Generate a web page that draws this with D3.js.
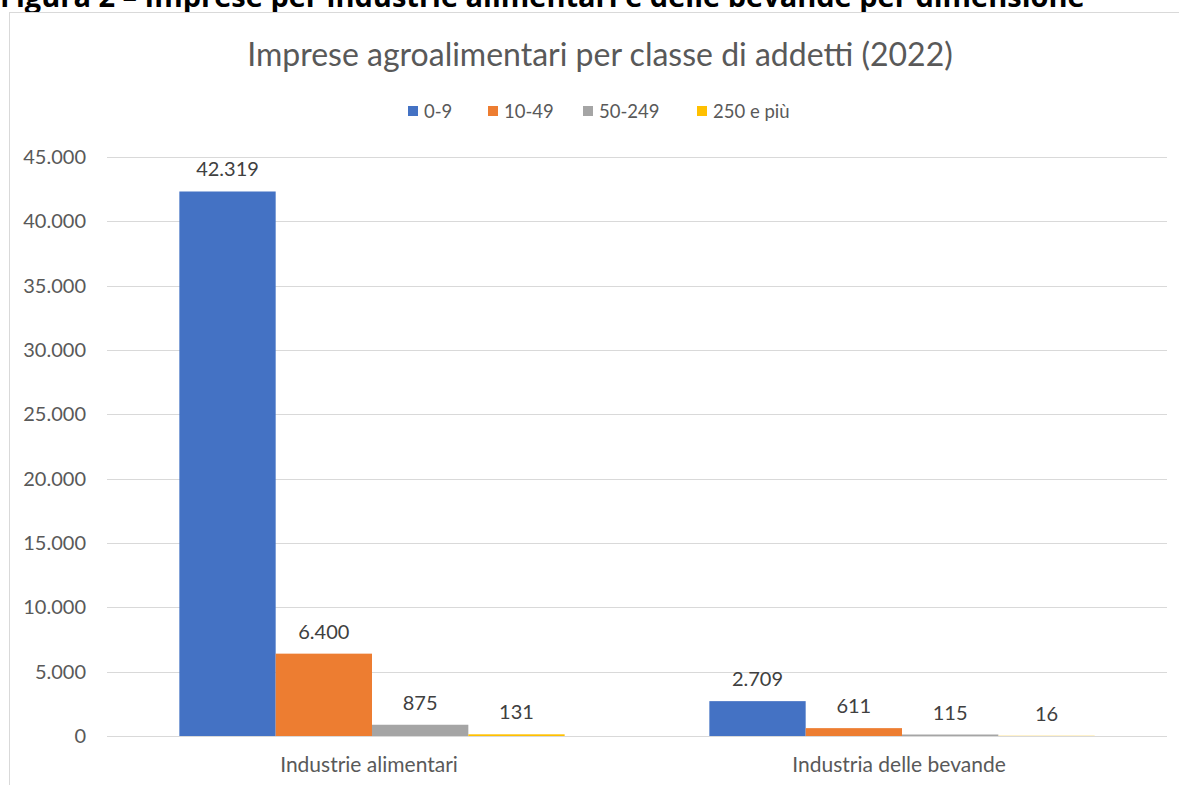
<!DOCTYPE html>
<html>
<head>
<meta charset="utf-8">
<script src="https://cdn.jsdelivr.net/npm/d3@7"></script>
<style>
  html, body { margin: 0; padding: 0; background: #fff; }
  svg { display: block; }
</style>
</head>
<body>
<svg id="chart" width="1179" height="785"></svg>
<script>
// Imprese agroalimentari per classe di addetti (2022)
const categories = ["Industrie alimentari", "Industria delle bevande"];
const classes = ["0-9", "10-49", "50-249", "250 e più"];
const values_0_9 = [42319, 2709];
const values_10_49 = [6400, 611];
const values_50_249 = [875, 115];
const values_250 = [131, 16];
const seriesColors = ["#4472c4", "#ed7d31", "#a5a5a5", "#ffc000"];
const yTicks = [0, 5000, 10000, 15000, 20000, 25000, 30000, 35000, 40000, 45000];

const series = [values_0_9, values_10_49, values_50_249, values_250];

const FONT = "Lato, 'Open Sans', sans-serif";
const fmt = d3.formatLocale({ decimal: ",", thousands: ".", grouping: [3], currency: ["€", ""] }).format(",d");

const svg = d3.select("#chart");

// Document heading above the chart frame
svg.append("text")
  .attr("x", 0).attr("y", 7)
  .attr("font-family", "'Open Sans', sans-serif")
  .attr("font-weight", "bold")
  .attr("font-size", 29)
  .attr("fill", "#000")
  .text("Figura 2 – Imprese per industrie alimentari e delle bevande per dimensione");

// Chart frame
svg.append("rect")
  .attr("x", 9.5).attr("y", 12.5)
  .attr("width", 1180).attr("height", 800)
  .attr("fill", "#fff")
  .attr("stroke", "#d9d9d9");

const margin = { left: 107, right: 1167, top: 157, bottom: 736 };

const x0 = d3.scaleBand().domain(categories).range([margin.left, margin.right]).paddingInner(0.273).paddingOuter(0.1365);
const x1 = d3.scaleBand().domain(d3.range(classes.length)).range([0, x0.bandwidth()]);
const y = d3.scaleLinear().domain([0, 45000]).range([margin.bottom, margin.top]);

// Gridlines
svg.append("g")
  .selectAll("line")
  .data(yTicks)
  .join("line")
  .attr("x1", margin.left).attr("x2", margin.right)
  .attr("y1", d => Math.round(y(d)) + 0.5).attr("y2", d => Math.round(y(d)) + 0.5)
  .attr("stroke", "#d9d9d9").attr("stroke-width", 1);

// Y axis labels
const yAxis = d3.axisLeft(y).tickValues(yTicks).tickFormat(fmt).tickSize(0).tickPadding(0);
const gy = svg.append("g").attr("transform", `translate(${margin.left - 21},0)`).call(yAxis);
gy.select(".domain").remove();
gy.selectAll("text")
  .attr("font-family", FONT).attr("font-size", 20).attr("fill", "#595959");

// X axis labels
const xAxis = d3.axisBottom(x0).tickSize(0).tickPadding(0);
const gx = svg.append("g").attr("transform", `translate(-3,${margin.bottom + 21})`).call(xAxis);
gx.select(".domain").remove();
gx.selectAll("text")
  .attr("font-family", FONT).attr("font-size", 21).attr("fill", "#595959");

// Bars
const groups = svg.append("g")
  .selectAll("g")
  .data(categories)
  .join("g")
  .attr("transform", d => `translate(${x0(d)},0)`);

groups.selectAll("rect")
  .data((d, i) => series.map((s, k) => ({ k, v: s[i] })))
  .join("rect")
  .attr("x", d => x1(d.k))
  .attr("width", x1.bandwidth())
  .attr("y", d => y(d.v))
  .attr("height", d => y(0) - y(d.v))
  .attr("fill", d => seriesColors[d.k]);

// Value labels
groups.selectAll("text.val")
  .data((d, i) => series.map((s, k) => ({ k, v: s[i] })))
  .join("text")
  .attr("class", "val")
  .attr("x", d => x1(d.k) + x1.bandwidth() / 2)
  .attr("y", d => y(d.v) - 15)
  .attr("text-anchor", "middle")
  .attr("font-family", FONT).attr("font-size", 20).attr("fill", "#404040")
  .text(d => fmt(d.v));

// Title
svg.append("text")
  .attr("x", 600).attr("y", 66)
  .attr("text-anchor", "middle")
  .attr("font-family", FONT).attr("font-size", 32).attr("fill", "#595959")
  .text("Imprese agroalimentari per classe di addetti (2022)");

// Legend
const legendX = [408, 488, 583, 697];
const legend = svg.append("g")
  .selectAll("g")
  .data(classes)
  .join("g")
  .attr("transform", (d, i) => `translate(${legendX[i]},111)`);
legend.append("rect")
  .attr("x", 0).attr("y", -5).attr("width", 10).attr("height", 10)
  .attr("fill", (d, i) => seriesColors[i]);
legend.append("text")
  .attr("x", 16).attr("y", 6.5)
  .attr("font-family", FONT).attr("font-size", 18.5).attr("fill", "#595959")
  .text(d => d);
</script>
</body>
</html>
